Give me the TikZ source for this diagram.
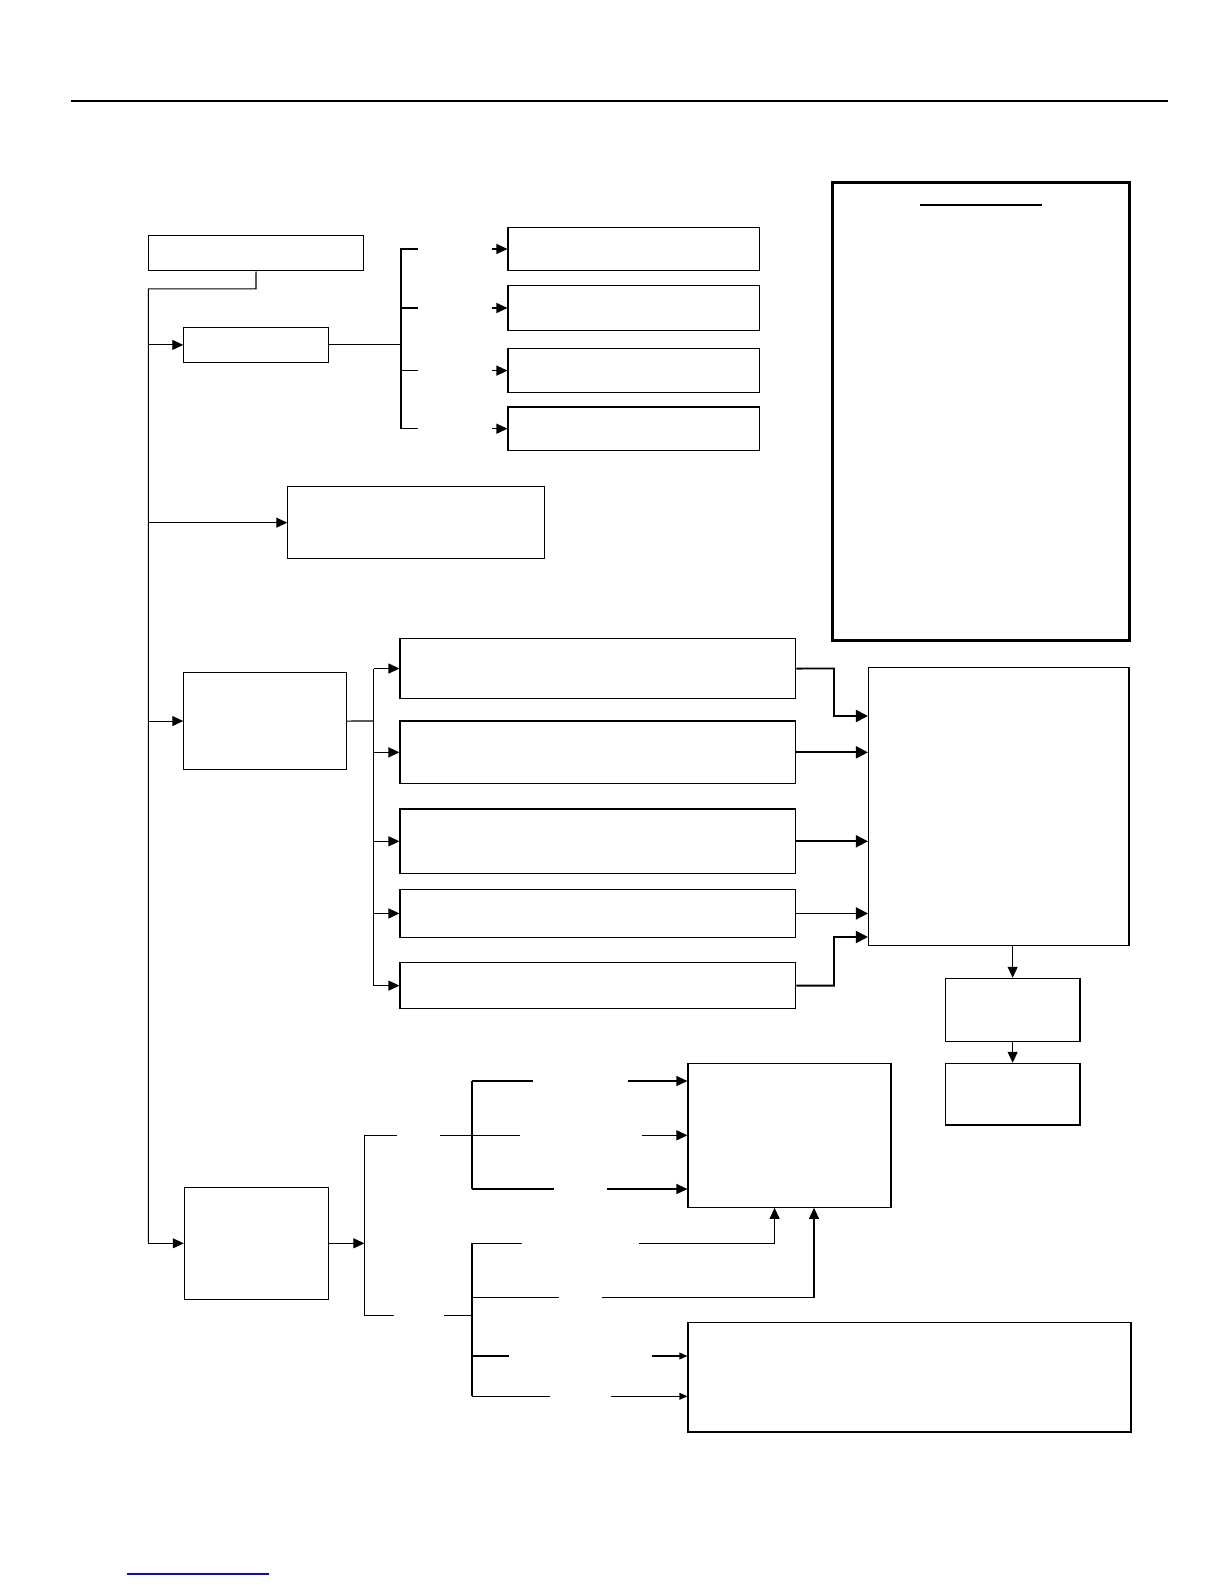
\documentclass[tikz,border=0pt]{standalone}
\usetikzlibrary{arrows.meta,fit}
\definecolor{linkblue}{RGB}{10,10,200}
\tikzset{
 box/.style={draw, line width=0.55pt, inner sep=0pt},
 conn/.style={line width=0.55pt},
 arr/.style={conn, -{Triangle[length=5.5pt,width=5pt]}},
 sarr/.style={conn, -{Triangle[length=4pt,width=3.4pt]}},
 tarr/.style={line width=0.95pt, -{Triangle[length=6pt,width=6pt]}},
}
\newcommand{\mkbox}[5]{\node[box, fit={(#2,#3) (#4,#5)}] (#1) {};}
\begin{document}
\begin{tikzpicture}[x=0.5pt,y=-0.5pt]
\useasboundingbox (0,0) rectangle (1224,1584);
\fill[white] (0,0) rectangle (1224,1584);
% top rule
\coordinate (rl) at (70.7,101); \coordinate (rr) at (1168.4,101);
\draw[line width=1pt] (rl) -- (rr);
% legend
\node[draw, line width=1.5pt, inner sep=0pt, fit={(832,182) (1129,640)}] (L) {};
\coordinate (ul1) at (920,204.5); \coordinate (ul2) at (1041.5,204.5);
\draw[line width=1pt] (ul1) -- (ul2);
% boxes
\mkbox{T}{148.5}{235.3}{363.6}{270.7}
\mkbox{A}{183.8}{327.2}{328.2}{362.6}
\mkbox{R1}{508}{227.2}{759.4}{270.7}
\mkbox{R2}{508}{285.8}{759.4}{330.2}
\mkbox{R3}{508}{348.4}{759.4}{392.8}
\mkbox{R4}{508}{407}{759.4}{450.4}
\mkbox{B}{287.8}{486.8}{544.3}{558.5}
\mkbox{C}{183.8}{672.6}{346.4}{769.5}
\mkbox{E1}{400}{638.3}{795.8}{698.8}
\mkbox{E2}{400}{721}{795.8}{783.7}
\mkbox{E3}{400}{809}{795.8}{873.6}
\mkbox{E4}{400}{889.7}{795.8}{937.2}
\mkbox{E5}{400}{962.4}{795.8}{1008.9}
\mkbox{F}{868.5}{667.5}{1129}{945.3}
\mkbox{G}{945.3}{978.3}{1080}{1041.3}
\mkbox{H}{945.3}{1063.3}{1080}{1125}
\mkbox{D}{184.3}{1187.3}{328.2}{1299.3}
\mkbox{I}{688}{1063.3}{891}{1207.3}
\mkbox{J}{688}{1322.3}{1131}{1432}
% trunk
\coordinate (t1) at (256,288.8); \coordinate (t2) at (148.4,288.8); \coordinate (tb) at (148.4,1243.3);
\draw[conn] (T.south) -- (t1) -- (t2) -- (tb);
\draw[arr] (t2 |- A.west) -- (A.west);
\draw[arr] (t2 |- B.west) -- (B.west);
\draw[arr] (t2 |- C.west) -- (C.west);
\draw[arr] (tb) -- (D.west);
% A bracket
\coordinate (ab) at (401,344.9);
\coordinate (abt) at (401,248.4); \coordinate (abb) at (401,429.2);
\draw[conn] (A.east) -- (ab);
\draw[conn] (abt) -- (abb);
\foreach \n/\y in {1/249,2/308,3/370.6,4/428.7}{
  \coordinate (as\n) at (401,\y); \coordinate (ae\n) at (417.5,\y); \coordinate (aa\n) at (492,\y);
  \draw[conn] (as\n) -- (ae\n);
  \draw[arr] (aa\n) -- (aa\n -| R\n.west);
}
% C bracket
\coordinate (cb) at (373.7,721);
\coordinate (cbt) at (373.7,668.5); \coordinate (cbb) at (373.7,985.6);
\draw[conn] (C.east) -- (cb);
\draw[conn] (cbt) -- (cbb);
\foreach \n in {1,...,5}{
  \coordinate (cs\n) at (cb |- E\n.west);
  \draw[arr] (cs\n) -- (E\n.west);
}
% E -> F
\coordinate (k1) at (834,668.5); \coordinate (k1b) at (834,716);
\coordinate (k5) at (834,985.6); \coordinate (k5b) at (834,937);
\draw[tarr] (E1.east) -- (k1) -- (k1b) -- (k1b -| F.west);
\draw[tarr] (E2.east) -- (E2.east -| F.west);
\draw[tarr] (E3.east) -- (E3.east -| F.west);
\draw[tarr] (E4.east) -- (E4.east -| F.west);
\draw[tarr] (E5.east) -- (k5) -- (k5b) -- (k5b -| F.west);
% F -> G -> H
\draw[arr] (G.north |- F.south) -- (G.north);
\draw[arr] (G.south) -- (H.north);
% D part
\coordinate (b1) at (364.4,1243.3);
\coordinate (b1t) at (364.4,1135.3); \coordinate (b1b) at (364.4,1315.3);
\draw[arr] (D.east) -- (b1);
\draw[conn] (b1t) -- (b1b);
\coordinate (s1e) at (396.7,1135.3); \coordinate (s2s) at (440,1135.3); \coordinate (s2e) at (519.6,1135.3);
\draw[conn] (b1t) -- (s1e);
\draw[conn] (s2s) -- (s2e);
\coordinate (b2t) at (472,1081); \coordinate (b2b) at (472,1189);
\draw[conn] (b2t) -- (b2b);
\coordinate (u1e) at (532.6,1081); \coordinate (u1a) at (627.5,1081);
\draw[conn] (b2t) -- (u1e);
\draw[arr] (u1a) -- (u1a -| I.west);
\coordinate (u2a) at (642,1135.3);
\draw[arr] (u2a) -- (u2a -| I.west);
\coordinate (u3e) at (553.6,1189); \coordinate (u3a) at (607,1189);
\draw[conn] (b2b) -- (u3e);
\draw[arr] (u3a) -- (u3a -| I.west);
\coordinate (s3e) at (394,1315.3); \coordinate (s4s) at (444,1315.3); \coordinate (s4e) at (472,1315.3);
\draw[conn] (b1b) -- (s3e);
\draw[conn] (s4s) -- (s4e);
\coordinate (b3t) at (472,1243.3); \coordinate (b3b) at (472,1396.3);
\draw[conn] (b3t) -- (b3b);
\coordinate (v1e) at (521.5,1243.3); \coordinate (v1a) at (639,1243.3); \coordinate (v1c) at (774.6,1243.3);
\draw[conn] (b3t) -- (v1e);
\draw[arr] (v1a) -- (v1c) -- (v1c |- I.south);
\coordinate (v2s) at (472,1297.3); \coordinate (v2e) at (558.6,1297.3);
\coordinate (v2a) at (602,1297.3); \coordinate (v2c) at (814,1297.3);
\draw[conn] (v2s) -- (v2e);
\draw[arr] (v2a) -- (v2c) -- (v2c |- I.south);
\coordinate (v3s) at (472,1356); \coordinate (v3e) at (508.5,1356); \coordinate (v3a) at (652,1356);
\draw[conn] (v3s) -- (v3e);
\draw[sarr] (v3a) -- (v3a -| J.west);
\coordinate (v4e) at (549.8,1396.3); \coordinate (v4a) at (611,1396.3);
\draw[conn] (b3b) -- (v4e);
\draw[sarr] (v4a) -- (v4a -| J.west);
% footer link line
\coordinate (bl1) at (127,1574); \coordinate (bl2) at (268.7,1574);
\draw[linkblue, line width=0.6pt] (bl1) -- (bl2);
\end{tikzpicture}
\end{document}
